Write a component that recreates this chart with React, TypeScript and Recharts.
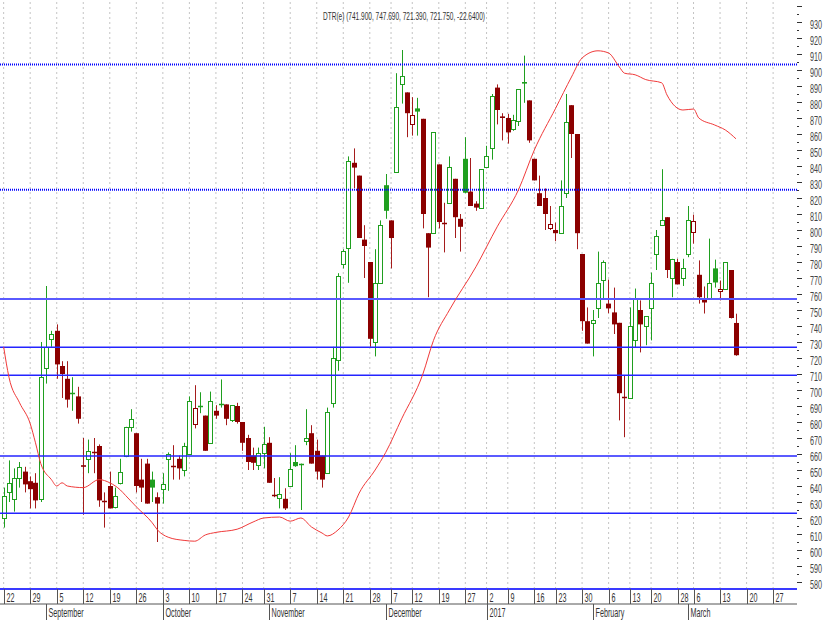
import React from 'react';
import { Bar, ComposedChart, Line, ReferenceLine, XAxis, YAxis } from 'recharts';

// daily OHLC (index 0 = Aug 22)
const opens = [
  620, 636, 632, 645, 649, 643, 642, 632, 714, 732,
  737, 715, 707, 697.5, 696, 653, 657, 661.5, 665, 630.5,
  640, 627, 642, 659, 677, 673, 644, 654, 644, 633,
  638, 657, 652.5, 657, 650, 660, 679, 689.5, 684, 667,
  687, 690.5, 691, 681, 690, 680, 670, 659, 653, 660.5,
  667, 634.5, 632.5, 632, 640, 655, 653.5, 668, 673, 662,
  659, 648, 692, 719, 779, 789, 842, 834, 794, 780,
  730, 767, 828, 806, 836, 891, 886, 866, 876, 869.5,
  798, 798, 841, 804.5, 817, 832, 807, 844.5, 824, 816.5,
  814, 839.5, 851, 889, 871, 870, 863, 868, 892.5, 881,
  844.5, 823, 820, 801.5, 800, 798, 823, 878, 860, 785,
  743, 741.6, 751, 769, 754, 748.5, 742, 695.5, 695, 731,
  750, 740, 751, 785, 803.4, 808, 770, 780, 770, 785,
  799, 772, 756.6, 757, 776, 761.6, 763, 775, 741.9,
];
const highs = [
  639, 656, 651, 655, 652, 646, 648, 730, 765, 737,
  741, 718, 718, 708, 702, 670, 669, 670, 666, 636,
  649, 639, 657, 677, 688, 673, 657, 657, 649, 636,
  648, 661, 665.5, 659, 667, 696, 703, 698.6, 684, 699,
  690.5, 706.6, 691, 690.5, 692, 680, 672, 664, 664, 677,
  670.5, 645, 645.5, 638.6, 660.5, 665.5, 654, 688, 678, 669,
  659, 689, 727, 773, 788, 846, 851, 834, 803, 780,
  788, 806, 835, 806, 898, 912.5, 886, 883, 882.6, 869.5,
  798, 861, 841, 817, 846, 832, 810, 858, 845, 818,
  838, 852.6, 885, 891, 873, 872.6, 872, 888, 909, 881,
  844.5, 834, 826, 815, 804.6, 831, 885, 878, 860, 785,
  751.6, 750, 786.5, 781, 769, 764, 742, 709, 751.6, 763.4,
  756, 746, 773.4, 800, 838, 808, 782, 782, 782, 815,
  809.6, 781, 764.7, 794.6, 781.5, 768.4, 780, 775, 747.69,
];
const lows = [
  614, 630, 624, 639, 636, 626, 626, 630, 704, 727,
  707, 695, 689, 687, 679, 622, 648, 648, 627, 614,
  626, 626, 641, 658, 674, 636, 630, 629, 630, 605,
  629, 637, 644, 644, 646, 660, 676, 685.5, 662, 667,
  682, 689, 678, 680, 679, 662, 650, 650, 650, 651,
  642, 633, 626, 625, 640, 652, 625, 665.5, 654, 644,
  639, 648, 689, 712, 776, 767, 826, 795, 770, 727,
  721, 767, 807, 776, 836, 879, 858, 859, 859, 801,
  758, 798, 801, 786, 817, 795, 786.5, 823, 815, 812,
  814, 839.5, 844, 866, 856, 854, 862, 865, 879.5, 854.5,
  831, 815, 800, 800, 793, 798, 820, 845, 788, 737,
  729, 721, 745, 757, 748, 735, 681, 670.5, 695, 726.6,
  723.5, 728, 731, 775, 803, 770, 758, 766, 765, 783,
  791.5, 754, 747.8, 756.6, 764, 756, 763, 744.7, 721.39,
];
const closes = [
  634, 642, 645, 652, 641, 638, 631, 708, 727, 735,
  716, 710, 694, 698, 682, 652, 662, 661, 631, 630,
  626, 634, 649, 677, 682, 640, 639, 629, 639, 629,
  641, 660, 652, 651, 665, 693, 689, 690, 662, 693,
  684, 691, 682, 690.5, 680, 667, 655, 654.5, 660.5, 666,
  642, 634, 635, 626, 650.5, 652.4, 654, 670, 654, 649,
  644, 686, 720, 771, 787, 843, 839, 795, 790, 732,
  767, 803, 812, 795, 877, 896, 873, 872, 874, 810,
  789, 861, 805, 804, 839.5, 808, 802, 823.3, 815, 814,
  838, 846, 884, 875, 870, 861, 869, 888, 891.5, 856,
  831, 815, 810, 804, 798, 815, 867.6, 860, 798, 743,
  729, 743.5, 766.6, 780, 751, 741, 698, 695, 740, 757,
  741, 746, 767, 796.5, 806, 775, 782, 766, 776, 806,
  805.5, 758, 754.7, 766.6, 767.2, 763.4, 780, 745, 721.75,
];

// red average line, points read at these candle indexes
const maIdx = [
  0, 1, 3, 5, 6, 7, 9, 10, 11, 12, 15, 18, 20, 22, 23, 25, 28, 29, 31, 34,
  36, 38, 40, 44, 47, 49, 52, 54, 56, 58, 60, 61, 63, 65, 67, 70, 72, 75, 79, 81,
  84, 89, 93, 97, 100, 104, 107, 109, 112, 114, 116, 117, 119, 121, 124, 125, 128, 130, 131, 134,
  136, 138,
];
const maVal = [
  727, 708, 692, 679, 667, 654, 644, 640, 642, 640, 639, 644, 642, 637.5, 634, 627, 617, 612.5, 608, 606,
  605.5, 609.4, 611, 613, 617.5, 620, 620.6, 618, 620, 614.4, 610.6, 608.8, 612.5, 620.6, 635.6, 650, 661, 682, 710, 731,
  750, 777, 802, 825, 850, 876, 895.6, 907.5, 912, 910.6, 902, 898, 897, 894, 892, 884.4, 875, 875.6, 870, 865.6,
  862.5, 857,
];

// horizontal levels
const levels = [903.5, 825.2, 756.9, 726.7, 709.2, 658.7, 622.9];

// bottom axis: week starts and months (candle indexes)
const weekIdx = [0, 5, 10, 15, 20, 25, 30, 35, 40, 45, 49, 54, 59, 64, 69, 73, 77, 82, 87, 91, 95, 100, 104, 109, 114, 118, 122, 127, 130, 135, 140, 145];
const weekLabels = ['22', '29', '5', '12', '19', '26', '3', '10', '17', '24', '31', '7', '14', '21', '28', '7', '12', '19', '27', '2', '9', '16', '23', '30', '6', '13', '20', '28', '6', '13', '20', '27'];
const monthIdx = [8, 30, 50, 72, 91, 111, 129];
const monthLabels = ['September', 'October', 'November', 'December', '2017', 'February', 'March'];

const priceLabels = [580, 590, 600, 610, 620, 630, 640, 650, 660, 670, 680, 690, 700, 710, 720, 730, 740, 750, 760, 770, 780, 790, 800, 810, 820, 830, 840, 850, 860, 870, 880, 890, 900, 910, 920, 930, 940];
const priceTicks = priceLabels.flatMap((v) => [v, v + 5]);

const SLOTS = 150;
const rows = Array.from({ length: SLOTS }, (_, i) => {
  const k = maIdx.indexOf(i);
  if (i >= closes.length) return { i, range: null, ma: null };
  return {
    i,
    o: opens[i],
    h: highs[i],
    l: lows[i],
    c: closes[i],
    pc: i > 0 ? closes[i - 1] : null,
    range: [lows[i], highs[i]],
    ma: k >= 0 ? maVal[k] : null,
  };
});

const GREEN = '#1f9f1f';
const RED = '#8b0000';
const RED_WICK = '#a51c1c';
const FONT = 'Liberation Sans, Arial, sans-serif';

const Candle = (props: any) => {
  const { x, y, width, height, payload } = props;
  if (!payload || payload.h == null || height == null) return null;
  const { o, h, l, c, pc } = payload;
  const top = Math.min(y, y + height);
  const span = Math.abs(height);
  const py = (v: number) => top + (h === l ? 0 : ((h - v) / (h - l)) * span);
  const up = pc == null || c > pc;
  const hollow = c > o;
  const color = up ? GREEN : RED;
  const wick = up ? GREEN : RED_WICK;
  const cx = Math.round(x + width / 2) + 0.5;
  const yh = py(h);
  const yl = py(l);
  let yt = py(Math.max(o, c));
  let yb = py(Math.min(o, c));
  if (yb - yt < 1.2) {
    return (
      <g>
        <line x1={cx} x2={cx} y1={yh} y2={yl} stroke={wick} />
        <line x1={cx - 2.5} x2={cx + 2.5} y1={Math.round(yt) + 0.5} y2={Math.round(yt) + 0.5} stroke={color} strokeWidth={1.5} />
      </g>
    );
  }
  if (hollow) {
    yt = Math.round(yt) + 0.5;
    yb = Math.round(yb) + 0.5;
    return (
      <g>
        <line x1={cx} x2={cx} y1={yh} y2={yt} stroke={wick} />
        <line x1={cx} x2={cx} y1={yb} y2={yl} stroke={wick} />
        <rect x={cx - 2} y={yt} width={4} height={yb - yt} fill="#fff" stroke={color} />
      </g>
    );
  }
  return (
    <g>
      <line x1={cx} x2={cx} y1={yh} y2={yl} stroke={wick} />
      <rect x={cx - 2.5} y={yt} width={5} height={yb - yt} fill={color} />
    </g>
  );
};

const WeekTick = (props: any) => {
  const { x, y, payload } = props;
  const k = weekIdx.indexOf(payload.value);
  if (k < 0) return null;
  const sx = Math.round(x) + 0.5;
  return (
    <g>
      <line x1={sx} x2={sx} y1={y} y2={y + 15} stroke="#555" />
      <text transform={`translate(${sx + 2},${y + 13}) scale(0.6,1)`} fontSize={12} fontFamily={FONT} fill="#333">
        {weekLabels[k]}
      </text>
    </g>
  );
};

const MonthTick = (props: any) => {
  const { x, y, payload } = props;
  const k = monthIdx.indexOf(payload.value);
  if (k < 0) return null;
  const sx = Math.round(x) + 0.5;
  return (
    <g>
      <line x1={sx} x2={sx} y1={y} y2={y + 16} stroke="#555" />
      <text transform={`translate(${sx + 2},${y + 13}) scale(0.6,1)`} fontSize={12} fontFamily={FONT} fill="#333">
        {monthLabels[k]}
      </text>
    </g>
  );
};

const PriceTick = (props: any) => {
  const { x, y, payload } = props;
  const v = payload.value;
  const major = v % 10 === 0;
  const yy = Math.round(y) + 0.5;
  return (
    <g>
      <line x1={x} x2={x + (major ? 5 : 2)} y1={yy} y2={yy} stroke="#333" />
      {major && v <= 930 && (
        <text transform={`translate(${x + 13},${y + 7}) scale(0.6,1)`} fontSize={12} fontFamily={FONT} fill="#444">
          {v}
        </text>
      )}
    </g>
  );
};

const App = () => {
  return (
    <div style={{ position: 'absolute', left: 0, top: 0, width: 825, height: 620, background: '#fff' }}>
      <ComposedChart
        width={825}
        height={620}
        data={rows}
        margin={{ top: 0, right: 0, bottom: 0, left: 0 }}
        barCategoryGap={0}
        barGap={0}
      >
        <XAxis
          dataKey="i"
          type="category"
          ticks={weekIdx}
          interval={0}
          tick={<WeekTick />}
          tickLine={false}
          tickSize={0}
          tickMargin={0}
          axisLine={{ stroke: '#3a3aff', strokeWidth: 2 }}
          height={15}
          padding={{ left: 1, right: 0 }}
        />
        <XAxis
          xAxisId="m"
          dataKey="i"
          type="category"
          ticks={monthIdx}
          interval={0}
          tick={<MonthTick />}
          tickLine={false}
          tickSize={0}
          tickMargin={0}
          axisLine={{ stroke: '#555' }}
          height={16}
          padding={{ left: 1, right: 0 }}
        />
        <YAxis
          orientation="right"
          type="number"
          domain={[575.625, 943.75]}
          allowDataOverflow
          ticks={priceTicks}
          interval={0}
          tick={<PriceTick />}
          tickLine={false}
          tickSize={0}
          tickMargin={0}
          axisLine={false}
          width={28}
        />
        {/* weekly dotted grid, kept under the candles */}
        {weekIdx.map((w) => (
          <ReferenceLine key={'w' + w} x={w} stroke="#c4c4c4" strokeDasharray="2 3" zIndex={-100} />
        ))}
        {levels.map((v, k) => (
          <ReferenceLine
            key={'l' + v}
            y={v}
            stroke={k < 2 ? '#0000ff' : k === 2 ? '#5a5aff' : '#2424ff'}
            strokeWidth={k < 3 ? 2 : 1.5}
            strokeDasharray={k < 2 ? '1 1' : undefined}
          />
        ))}
        <Bar dataKey="range" shape={<Candle />} isAnimationActive={false} />
        <Line
          dataKey="ma"
          type="monotone"
          stroke="#f03a3a"
          strokeWidth={1}
          dot={false}
          activeDot={false}
          legendType="none"
          connectNulls
          isAnimationActive={false}
        />
      </ComposedChart>
      <svg width={825} height={30} style={{ position: 'absolute', left: 0, top: 0, pointerEvents: 'none' }}>
        <text x={323} y={20} fontSize={11} fontFamily={FONT} fill="#333" textLength={162} lengthAdjust="spacingAndGlyphs">
          DTR(e) (741.900, 747.690, 721.390, 721.750, -22.6400)
        </text>
      </svg>
    </div>
  );
};

export default App;
